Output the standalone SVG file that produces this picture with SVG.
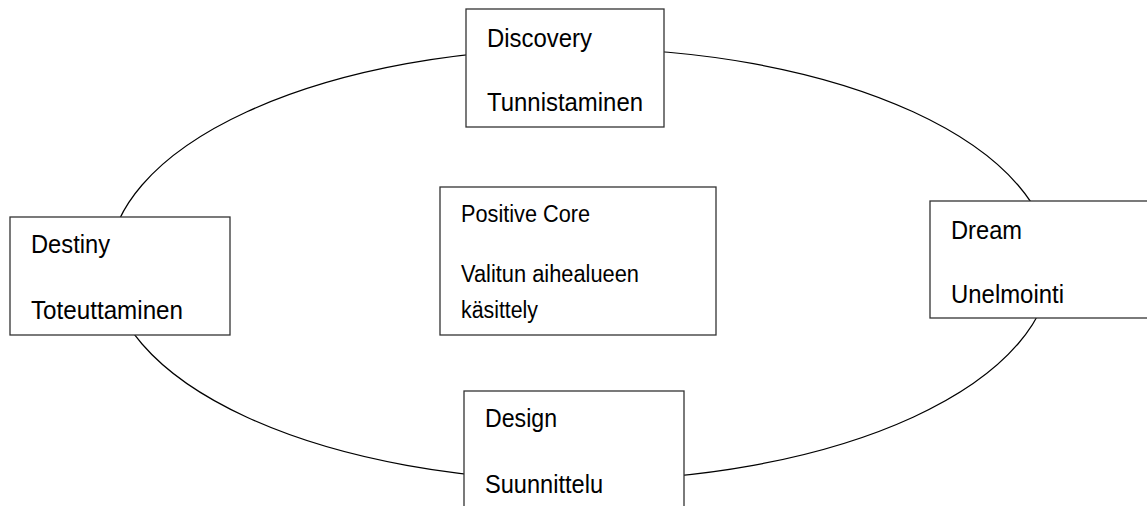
<svg xmlns="http://www.w3.org/2000/svg" width="1147" height="506" viewBox="0 0 1147 506">
<style>
.box{fill:#fff;stroke:#333;stroke-width:1.3}
.t{font-family:"Liberation Sans",Arial,sans-serif;font-size:26px;fill:#000}
.c{font-family:"Liberation Sans",Arial,sans-serif;font-size:23px;fill:#000}
.ring{fill:none;stroke:#000;stroke-width:1.2}
</style>
<rect width="1147" height="506" fill="#fff"/>
<g id="connectors">
<ellipse class="ring" cx="580" cy="264.5" rx="471" ry="216"/>
</g>
<g id="discovery">
<rect class="box" x="466" y="9" width="198" height="118"/>
<text class="t" x="487" y="47" textLength="105" lengthAdjust="spacingAndGlyphs">Discovery</text>
<text class="t" x="487" y="111" textLength="156" lengthAdjust="spacingAndGlyphs">Tunnistaminen</text>
</g>
<g id="destiny">
<rect class="box" x="10" y="217" width="220" height="118"/>
<text class="t" x="31" y="253" textLength="79" lengthAdjust="spacingAndGlyphs">Destiny</text>
<text class="t" x="31" y="319" textLength="152" lengthAdjust="spacingAndGlyphs">Toteuttaminen</text>
</g>
<g id="core">
<rect class="box" x="440" y="187" width="276" height="148"/>
<text class="c" x="461" y="222" textLength="129" lengthAdjust="spacingAndGlyphs">Positive Core</text>
<text class="c" x="461" y="282" textLength="178" lengthAdjust="spacingAndGlyphs">Valitun aihealueen</text>
<text class="c" x="461" y="318" textLength="77" lengthAdjust="spacingAndGlyphs">käsittely</text>
</g>
<g id="dream">
<rect class="box" x="930" y="201" width="230" height="117"/>
<text class="t" x="951" y="239" textLength="71" lengthAdjust="spacingAndGlyphs">Dream</text>
<text class="t" x="951" y="303" textLength="113" lengthAdjust="spacingAndGlyphs">Unelmointi</text>
</g>
<g id="design">
<rect class="box" x="464" y="391" width="220" height="130"/>
<text class="t" x="485" y="427" textLength="72" lengthAdjust="spacingAndGlyphs">Design</text>
<text class="t" x="485" y="493" textLength="118" lengthAdjust="spacingAndGlyphs">Suunnittelu</text>
</g>
</svg>
